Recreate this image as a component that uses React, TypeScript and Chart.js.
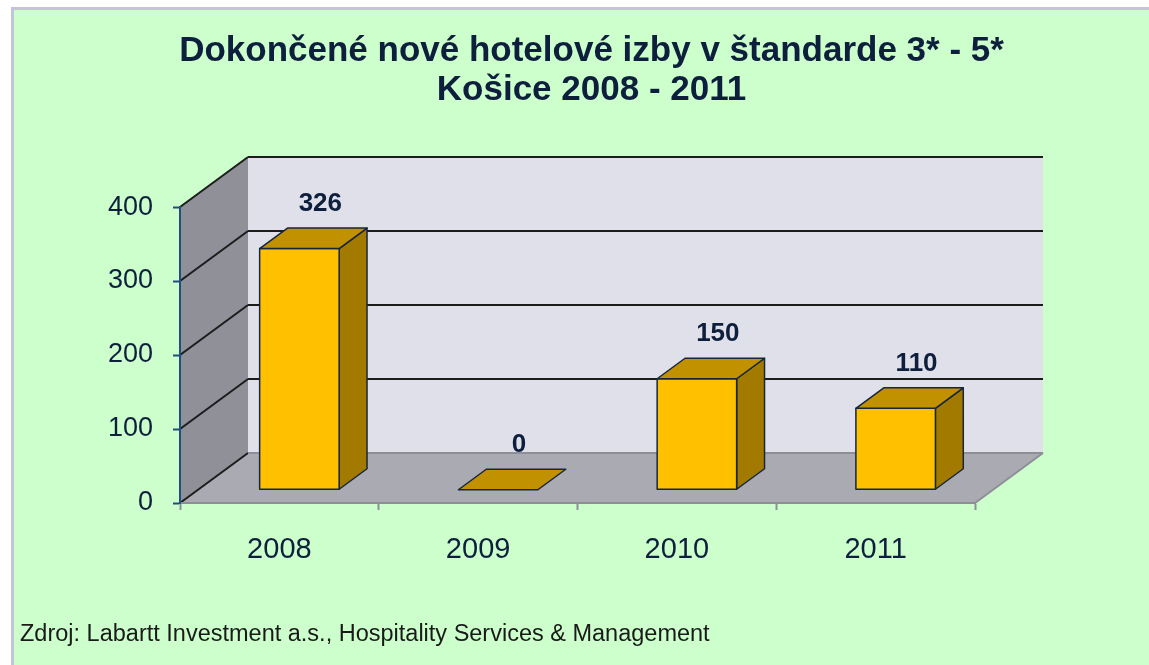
import React, { useEffect, useRef } from "react";
import { Chart, registerables } from "chart.js";

Chart.register(...registerables);

// ---- data ----
const TITLE_LINES = ["Dokončené nové hotelové izby v štandarde 3* - 5*", "Košice 2008 - 2011"];
const CATEGORIES = ["2008", "2009", "2010", "2011"];
const ROOMS = [326, 0, 150, 110];
const Y_MIN = 0;
const Y_MAX = 400;
const Y_STEP = 100;
const SOURCE_NOTE = "Zdroj: Labartt Investment a.s., Hospitality Services & Management";

// ---- style ----
const FONT = "'Liberation Sans', Arial, Helvetica, sans-serif";
const TEXT = "#0e1f3d";
const DX = 68; // depth vector of the 3D box
const DY = -50;
const BAR_FRONT = 0.265; // depth fraction of bar front face
const BAR_BACK = 0.675; // depth fraction of bar back face

function poly(ctx: CanvasRenderingContext2D, pts: number[][], fill?: string, stroke?: string, lw = 1.5) {
  ctx.beginPath();
  pts.forEach((p, i) => (i ? ctx.lineTo(p[0], p[1]) : ctx.moveTo(p[0], p[1])));
  ctx.closePath();
  if (fill) {
    ctx.fillStyle = fill;
    ctx.fill();
  }
  if (stroke) {
    ctx.strokeStyle = stroke;
    ctx.lineWidth = lw;
    ctx.lineJoin = "round";
    ctx.stroke();
  }
}

function line(ctx: CanvasRenderingContext2D, x1: number, y1: number, x2: number, y2: number, color: string, lw: number) {
  ctx.beginPath();
  ctx.moveTo(x1, y1);
  ctx.lineTo(x2, y2);
  ctx.strokeStyle = color;
  ctx.lineWidth = lw;
  ctx.stroke();
}

const box3d = {
  id: "box3d",
  beforeDraw(chart: any) {
    const { ctx, chartArea: a } = chart;
    const y = chart.scales.y;
    const y0 = y.getPixelForValue(Y_MIN);
    const yT = y.getPixelForValue(Y_MAX);
    const L = a.left;
    const R = a.right;
    ctx.save();
    // left side wall
    poly(ctx, [[L, yT], [L + DX, yT + DY], [L + DX, y0 + DY], [L, y0]], "#8f9098");
    // back wall
    poly(ctx, [[L + DX, yT + DY], [R + DX, yT + DY], [R + DX, y0 + DY], [L + DX, y0 + DY]], "#e0e0ea");
    // floor
    poly(ctx, [[L, y0], [L + DX, y0 + DY], [R + DX, y0 + DY], [R, y0]], "#a9aab2");
    line(ctx, R, y0, R + DX, y0 + DY, "#8d8e98", 2);
    // grid lines on side and back walls
    y.ticks.forEach((t: any) => {
      const py = y.getPixelForValue(t.value);
      line(ctx, L, py, L + DX, py + DY, "#1c1c1c", 2);
      if (t.value !== Y_MIN) {
        line(ctx, L + DX, py + DY, R + DX, py + DY, "#1c1c1c", 2);
      } else {
        line(ctx, L + DX, py + DY, R + DX, py + DY, "#8d8e98", 2);
      }
    });
    ctx.restore();
  },
  afterDatasetsDraw(chart: any) {
    const { ctx } = chart;
    const meta = chart.getDatasetMeta(0);
    const values = chart.data.datasets[0].data;
    const fx = BAR_FRONT * DX;
    const fy = BAR_FRONT * DY;
    const ddx = (BAR_BACK - BAR_FRONT) * DX;
    const ddy = (BAR_BACK - BAR_FRONT) * DY;
    const outline = "#17263d";
    ctx.save();
    meta.data.forEach((el: any, i: number) => {
      const p = el.getProps(["x", "y", "base", "width"], true);
      const l = p.x - p.width / 2 + fx + 2;
      const r = p.x + p.width / 2 + fx + 2;
      const t = p.y + fy;
      const b = p.base + fy;
      if (b - t > 0.5) {
        // right side face
        poly(ctx, [[r, t], [r + ddx, t + ddy], [r + ddx, b + ddy], [r, b]], "#a37a00", outline);
        // front face
        poly(ctx, [[l, t], [r, t], [r, b], [l, b]], "#ffc000", outline);
      }
      // top face
      poly(ctx, [[l, t], [l + ddx, t + ddy], [r + ddx, t + ddy], [r, t]], "#c29100", outline);
      // value label
      ctx.fillStyle = TEXT;
      ctx.font = `bold 26px ${FONT}`;
      ctx.textAlign = "center";
      ctx.textBaseline = "middle";
      ctx.fillText(String(values[i]), (l + r + ddx) / 2 + 7, t + ddy - 24);
    });
    ctx.restore();
  },
};

export default function App() {
  const ref = useRef<HTMLCanvasElement>(null);
  useEffect(() => {
    if (!ref.current) return;
    const chart = new Chart(ref.current, {
      type: "bar",
      data: {
        labels: CATEGORIES,
        datasets: [
          {
            data: ROOMS,
            backgroundColor: "rgba(0,0,0,0)",
            borderWidth: 0,
            barPercentage: 0.4,
            categoryPercentage: 1,
          },
        ],
      },
      options: {
        animation: false,
        responsive: false,
        devicePixelRatio: 1,
        layout: { padding: { left: 0, right: 0, top: 0, bottom: 62 } },
        plugins: {
          legend: { display: false },
          tooltip: { enabled: false },
          title: {
            display: true,
            text: TITLE_LINES,
            color: TEXT,
            font: { family: FONT, size: 35, weight: "bold", lineHeight: 1.115 },
            padding: { top: 22, bottom: 97 },
          },
        },
        scales: {
          x: {
            type: "category",
            offset: true,
            grid: {
              offset: true,
              drawOnChartArea: false,
              drawTicks: true,
              tickLength: 7,
              tickColor: "#8d8e98",
              tickWidth: 2,
            },
            border: { display: true, color: "#8d8e98", width: 2 },
            ticks: { color: TEXT, font: { family: FONT, size: 29 }, padding: 23, maxRotation: 0, autoSkip: false },
            afterFit: (s: any) => {
              s.height = 100;
            },
          },
          y: {
            type: "linear",
            position: "left",
            min: Y_MIN,
            max: Y_MAX,
            ticks: { stepSize: Y_STEP, color: TEXT, font: { family: FONT, size: 27 }, padding: 20 },
            grid: { drawOnChartArea: false, drawTicks: true, tickLength: 7, tickColor: "#1f4e80", tickWidth: 2 },
            border: { display: true, color: "#1f4e80", width: 2 },
            afterFit: (s: any) => {
              s.width = 166;
            },
          },
          y2: {
            type: "linear",
            position: "right",
            display: true,
            ticks: { display: false },
            grid: { display: false },
            border: { display: false },
            afterFit: (s: any) => {
              s.width = 194;
            },
          },
        },
      },
      plugins: [box3d],
    } as any);
    return () => chart.destroy();
  }, []);

  return (
    <div
      style={{
        position: "absolute",
        left: 11,
        top: 7,
        width: 1138,
        height: 658,
        boxSizing: "border-box",
        borderTop: "3px solid #c3c3dc",
        borderLeft: "3px solid #c3c3dc",
        background: "#ccffcc",
        overflow: "hidden",
      }}
    >
      <canvas ref={ref} width={1155} height={655} style={{ display: "block" }} />
      <div
        style={{
          position: "absolute",
          left: 6,
          top: 609,
          fontFamily: FONT,
          fontSize: 23.5,
          lineHeight: "28px",
          color: "#1a1a1a",
          whiteSpace: "nowrap",
        }}
      >
        {SOURCE_NOTE}
      </div>
    </div>
  );
}
